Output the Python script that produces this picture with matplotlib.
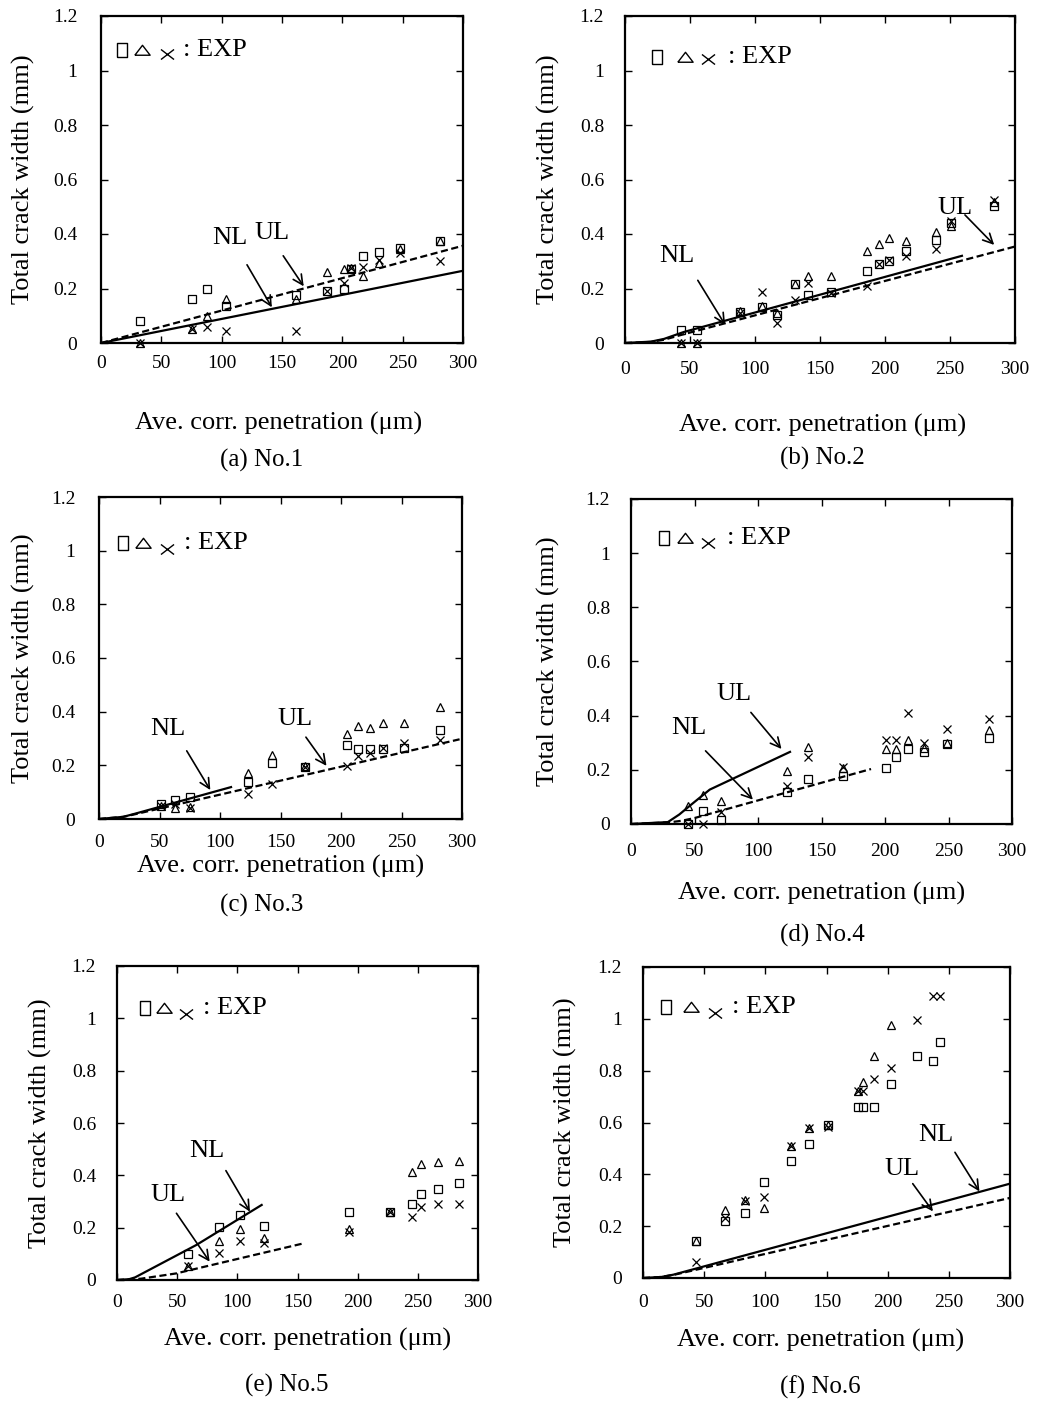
import matplotlib
matplotlib.use("Agg")
import matplotlib.pyplot as plt
from matplotlib.path import Path

plt.rcParams['font.family'] = ['Liberation Serif', 'DejaVu Serif']

W, H = 1037, 1410

# ---------------- No.1 ----------------
no1_x = [32, 75, 88, 104, 162, 187, 201, 207, 217, 230, 248, 281]
no1_sq = [0.08, 0.16, 0.20, 0.135, 0.177, 0.19, 0.20, 0.27, 0.32, 0.335, 0.35, 0.375]
no1_tri = [0.0, 0.05, 0.10, 0.16, 0.16, 0.26, 0.27, 0.275, 0.245, 0.295, 0.345, 0.375]
no1_cr = [0.0, 0.05, 0.06, 0.045, 0.045, 0.19, 0.22, 0.275, 0.28, 0.305, 0.33, 0.30]
no1_solid_x = [0, 300]
no1_solid_y = [0, 0.265]
no1_dash_x = [0, 300]
no1_dash_y = [0, 0.357]

# ---------------- No.2 ----------------
no2_x = [43, 55, 88.5, 105, 117, 131, 141, 158.5, 186, 195, 203, 216, 239, 251, 284]
no2_sq = [0.046, 0.046, 0.112, 0.131, 0.104, 0.218, 0.177, 0.186, 0.266, 0.291,
          0.30, 0.339, 0.379, 0.442, 0.504]
no2_tri = [0.0, 0.0, 0.116, 0.137, 0.11, 0.218, 0.247, 0.247, 0.336, 0.364,
           0.385, 0.376, 0.406, 0.428, 0.517]
no2_cr = [0.0, 0.0, 0.11, 0.186, 0.073, 0.159, 0.222, 0.183, 0.208, 0.291,
          0.305, 0.318, 0.345, 0.446, 0.523]
no2_solid_x = [0, 20, 30, 45, 260]
no2_solid_y = [0, 0.005, 0.015, 0.04, 0.321]
no2_dash_x = [0, 20, 30, 45, 300]
no2_dash_y = [0, 0.004, 0.012, 0.032, 0.354]

# ---------------- No.3 ----------------
no3_x = [51, 63, 75, 123.5, 143, 170, 205, 214, 224, 235, 252, 282]
no3_sq = [0.056, 0.071, 0.081, 0.139, 0.208, 0.195, 0.276, 0.26, 0.26, 0.261, 0.264, 0.332]
no3_tri = [0.05, 0.04, 0.046, 0.173, 0.239, 0.198, 0.317, 0.347, 0.338, 0.359, 0.359, 0.417]
no3_cr = [0.05, 0.056, 0.04, 0.093, 0.131, 0.195, 0.198, 0.233, 0.245, 0.264, 0.282, 0.295]
no3_solid_x = [0, 20, 30, 110]
no3_solid_y = [0, 0.008, 0.02, 0.12]
no3_dash_x = [0, 20, 30, 298]
no3_dash_y = [0, 0.008, 0.018, 0.297]

# ---------------- No.4 ----------------
no4_x = [45, 57, 70.5, 122.5, 139.5, 167, 201, 209, 218, 231, 249, 282]
no4_sq = [0.0, 0.047, 0.016, 0.117, 0.166, 0.176, 0.207, 0.247, 0.277, 0.264, 0.296, 0.317]
no4_tri = [0.068, 0.108, 0.086, 0.197, 0.286, 0.207, 0.277, 0.277, 0.309, 0.28, 0.299, 0.348]
no4_cr = [0.0, 0.0, 0.043, 0.141, 0.247, 0.209, 0.311, 0.311, 0.41, 0.299, 0.35, 0.387]
no4_solid_x = [0, 29, 38, 47, 62, 126]
no4_solid_y = [0, 0.007, 0.035, 0.07, 0.127, 0.268]
no4_dash_x = [0, 30, 40, 50, 189]
no4_dash_y = [0, 0.006, 0.012, 0.022, 0.203]

# ---------------- No.5 ----------------
no5_x = [59, 85, 102, 122, 193, 226.5, 245, 253, 267, 284.5]
no5_sq = [0.099, 0.201, 0.248, 0.208, 0.259, 0.259, 0.289, 0.327, 0.349, 0.369]
no5_tri = [0.054, 0.15, 0.195, 0.159, 0.195, 0.259, 0.411, 0.442, 0.452, 0.456]
no5_cr = [0.054, 0.102, 0.15, 0.14, 0.185, 0.259, 0.239, 0.278, 0.29, 0.29]
no5_solid_x = [0, 10, 15, 66, 121]
no5_solid_y = [0, 0.003, 0.01, 0.134, 0.289]
no5_dash_x = [0, 20, 49, 155]
no5_dash_y = [0, 0.005, 0.025, 0.14]

# ---------------- No.6 ----------------
nan = float('nan')
no6_x = [43.6, 67, 83, 98.6, 121, 136, 151.6, 176, 180, 189, 202.6, 224, 237, 243]
no6_sq = [0.141, 0.219, 0.251, 0.369, 0.45, 0.518, 0.589, 0.659, 0.659, 0.659,
          0.749, 0.858, 0.837, 0.909]
no6_tri = [0.141, 0.261, 0.30, 0.27, 0.51, 0.579, 0.589, 0.723, 0.756, 0.858,
           0.977, nan, nan, nan]
no6_cr = [0.06, 0.232, 0.296, 0.311, 0.508, 0.579, 0.581, 0.72, 0.72, 0.768,
          0.81, 0.997, 1.087, 1.087]
no6_solid_x = [0, 15, 25, 300]
no6_solid_y = [0, 0.004, 0.013, 0.364]
no6_dash_x = [0, 15, 25, 300]
no6_dash_y = [0, 0.004, 0.012, 0.309]

x_ticks = [0, 50, 100, 150, 200, 250, 300]
y_ticks = [0, 0.2, 0.4, 0.6, 0.8, 1.0, 1.2]
y_tick_labels = ['0', '0.2', '0.4', '0.6', '0.8', '1', '1.2']
x_label = 'Ave. corr. penetration (\u03bcm)'
y_label = 'Total crack width (mm)'

panels = [
    dict(cap='(a) No.1', x=no1_x, sq=no1_sq, tri=no1_tri, cr=no1_cr,
         solid=(no1_solid_x, no1_solid_y), dash=(no1_dash_x, no1_dash_y),
         box=(101, 16, 463, 343), xpad=8.6, ypad=17, xl=(279, 423), yl=23, cp=(262, 460),
         notes=[('NL', (106.5, 0.385), (121, 0.287), (141.6, 0.131)),
                ('UL', (142, 0.403), (151, 0.32), (168, 0.208))],
         leg=(0.057, 0.896, 0.112, 0.183, 0.883, 0.227)),
    dict(cap='(b) No.2', x=no2_x, sq=no2_sq, tri=no2_tri, cr=no2_cr,
         solid=(no2_solid_x, no2_solid_y), dash=(no2_dash_x, no2_dash_y),
         box=(625, 16, 1015, 343), xpad=13, ypad=15, xl=(823, 425), yl=548, cp=(822, 458),
         notes=[('NL', (40, 0.318), (56, 0.23), (77, 0.067)),
                ('UL', (254, 0.495), (261.5, 0.47), (284, 0.36))],
         leg=(0.081, 0.876, 0.154, 0.212, 0.868, 0.265)),
    dict(cap='(c) No.3', x=no3_x, sq=no3_sq, tri=no3_tri, cr=no3_cr,
         solid=(no3_solid_x, no3_solid_y), dash=(no3_dash_x, no3_dash_y),
         box=(99, 497, 462, 819), xpad=10.8, ypad=17, xl=(281, 866), yl=23, cp=(262, 905),
         notes=[('NL', (57, 0.335), (72.5, 0.254), (92, 0.108)),
                ('UL', (162, 0.372), (171, 0.305), (188, 0.198))],
         leg=(0.067, 0.856, 0.122, 0.186, 0.840, 0.235)),
    dict(cap='(d) No.4', x=no4_x, sq=no4_sq, tri=no4_tri, cr=no4_cr,
         solid=(no4_solid_x, no4_solid_y), dash=(no4_dash_x, no4_dash_y),
         box=(631, 499, 1012, 824), xpad=13.7, ypad=15, xl=(822, 893), yl=548, cp=(822, 935),
         notes=[('UL', (81, 0.481), (94.4, 0.412), (118.5, 0.277)),
                ('NL', (45.6, 0.354), (58.7, 0.27), (96, 0.09))],
         leg=(0.087, 0.879, 0.142, 0.201, 0.864, 0.251)),
    dict(cap='(e) No.5', x=no5_x, sq=no5_sq, tri=no5_tri, cr=no5_cr,
         solid=(no5_solid_x, no5_solid_y), dash=(no5_dash_x, no5_dash_y),
         box=(117, 966, 478, 1280), xpad=10, ypad=15, xl=(308, 1339), yl=40, cp=(287, 1385),
         notes=[('NL', (75, 0.494), (90.5, 0.418), (110.5, 0.261)),
                ('UL', (42.5, 0.325), (49.4, 0.255), (77, 0.07))],
         leg=(0.078, 0.865, 0.131, 0.191, 0.846, 0.239)),
    dict(cap='(f) No.6', x=no6_x, sq=no6_sq, tri=no6_tri, cr=no6_cr,
         solid=(no6_solid_x, no6_solid_y), dash=(no6_dash_x, no6_dash_y),
         box=(643, 967, 1010, 1278), xpad=11.5, ypad=15, xl=(821, 1340), yl=565, cp=(820, 1387),
         notes=[('NL', (239.6, 0.55), (255, 0.485), (275, 0.334)),
                ('UL', (211.5, 0.42), (220.5, 0.364), (237, 0.257))],
         leg=(0.063, 0.872, 0.130, 0.196, 0.853, 0.242)),
]

# symbols used in the in-plot key (slightly taller box, flatter triangle)
key_square = Path([(-0.77, -1), (0.77, -1), (0.77, 1), (-0.77, 1), (-0.77, -1)])
key_triangle = Path([(-1, -0.62), (1, -0.62), (0, 0.68), (-1, -0.62)])
key_cross = Path([(-1, -0.77), (1, 0.77), (-1, 0.77), (1, -0.77)],
                 [Path.MOVETO, Path.LINETO, Path.MOVETO, Path.LINETO])

fig = plt.figure(figsize=(W / 100, H / 100), dpi=100)

for p in panels:
    l, t, r, b = p['box']
    ax = fig.add_axes([l / W, 1 - b / H, (r - l) / W, (b - t) / H])
    ax.set_xlim(0, 300)
    ax.set_ylim(0, 1.2)
    ax.set_xticks(x_ticks)
    ax.set_yticks(y_ticks)
    ax.set_yticklabels(y_tick_labels)
    for s in ax.spines.values():
        s.set_linewidth(1.6)
    ax.tick_params(direction='in', top=True, right=True, length=5, width=1,
                   labelsize=14)
    ax.tick_params(axis='x', pad=p['xpad'])
    ax.tick_params(axis='y', pad=p['ypad'])

    # model curves
    ax.plot(*p['solid'], color='k', lw=1.6, solid_capstyle='butt', zorder=3)
    ax.plot(*p['dash'], color='k', lw=1.6, dashes=(3.2, 1.6), zorder=3)

    # measured crack widths
    ax.plot(p['x'], p['sq'], ls='none', marker='s', ms=6, mfc='none', mec='k',
            mew=0.9, clip_on=False, zorder=4)
    ax.plot(p['x'], p['tri'], ls='none', marker='^', ms=6.3, mfc='none', mec='k',
            mew=0.9, clip_on=False, zorder=4)
    ax.plot(p['x'], p['cr'], ls='none', marker='x', ms=6, mec='k',
            mew=0.9, clip_on=False, zorder=4)

    # curve labels with arrows
    for name, txt_xy, start, end in p['notes']:
        ax.text(*txt_xy, name, ha='center', va='center', fontsize=19)
        ax.annotate('', xy=end, xytext=start,
                    arrowprops=dict(arrowstyle='->,head_length=0.5,head_width=0.25',
                                    lw=1.2, color='k', mutation_scale=14,
                                    shrinkA=0, shrinkB=0))

    # key for the experimental symbols
    sx, sy, tx, cx, cy, ex = p['leg']
    ax.plot([sx], [sy], transform=ax.transAxes, ls='none', marker=key_square,
            ms=9.4, mfc='none', mec='k', mew=1.0)
    ax.plot([tx], [sy], transform=ax.transAxes, ls='none', marker=key_triangle,
            ms=11, mfc='none', mec='k', mew=1.0)
    ax.plot([cx], [cy], transform=ax.transAxes, ls='none', marker=key_cross,
            ms=9.4, mec='k', mew=1.0)
    ax.text(ex, sy, ': EXP', transform=ax.transAxes, ha='left', va='center',
            fontsize=19)

    # axis titles
    ax.set_xlabel(x_label, fontsize=19)
    ax.set_ylabel(y_label, fontsize=19)
    xl_x, xl_y = p['xl']
    ax.xaxis.set_label_coords((xl_x - l) / (r - l), (b - xl_y) / (b - t))
    ax.xaxis.label.set_va('center')
    ax.yaxis.set_label_coords((p['yl'] - l) / (r - l), 0.5)
    ax.yaxis.label.set_va('center')
    ax.yaxis.label.set_ha('center')

    cpx, cpy = p['cp']
    fig.text(cpx / W, 1 - cpy / H, p['cap'], ha='center', va='center', fontsize=18)

fig.savefig('out.png', dpi=100)
